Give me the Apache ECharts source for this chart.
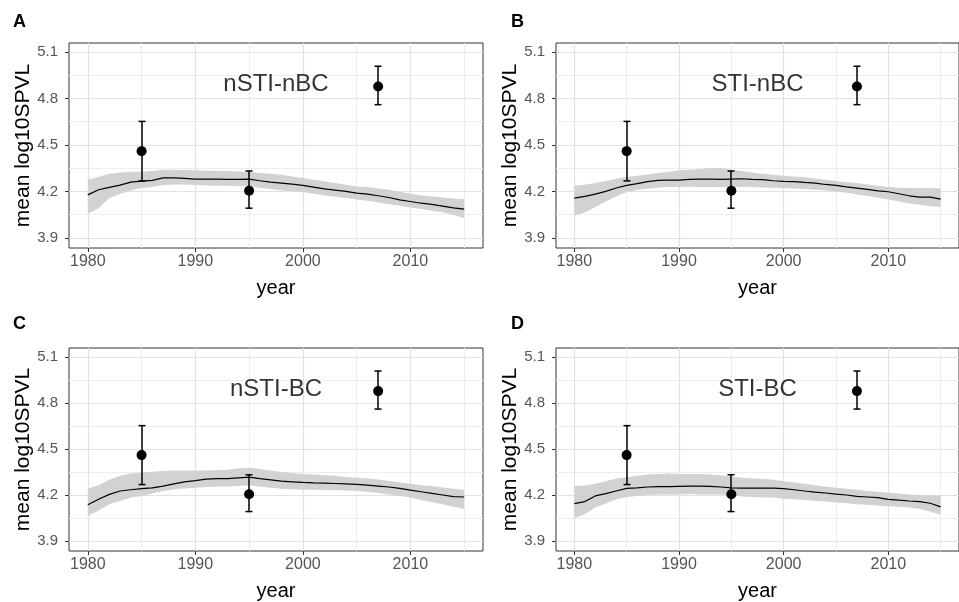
<!DOCTYPE html>
<html>
<head>
<meta charset="utf-8">
<title>mean log10SPVL by year</title>
<script src="https://cdn.jsdelivr.net/npm/echarts@6/dist/echarts.min.js"></script>
<style>
  html, body { margin: 0; padding: 0; background: #fff; }
  #chart { width: 959px; height: 602px; }
</style>
</head>
<body>
<div id="chart"></div>
<script>
  // x values of the model curves
  const years = [
    1980, 1981, 1982, 1983, 1984, 1985, 1986, 1987, 1988, 1989,
    1990, 1991, 1992, 1993, 1994, 1995, 1996, 1997, 1998, 1999,
    2000, 2001, 2002, 2003, 2004, 2005, 2006, 2007, 2008, 2009,
    2010, 2011, 2012, 2013, 2014, 2015
  ];

  // tick labels and grid lines
  const xTicks = [1980, 1990, 2000, 2010];
  const xMinor = [1985, 1995, 2005, 2015];
  const yTicks = [3.9, 4.2, 4.5, 4.8, 5.1];
  const yMinor = [4.05, 4.35, 4.65, 4.95];

  // observed means with error bars (same in every panel)
  const obsYears = [1985, 1995, 2007];
  const obsMean = [4.46, 4.205, 4.877];
  const obsLow = [4.268, 4.092, 4.76];
  const obsHigh = [4.652, 4.332, 5.008];

  // A: nSTI-nBC
  const meanA = [4.178, 4.211, 4.226, 4.241, 4.260, 4.267, 4.271, 4.288, 4.288, 4.284,
    4.280, 4.280, 4.280, 4.278, 4.278, 4.280, 4.269, 4.260, 4.254, 4.247,
    4.239, 4.228, 4.217, 4.209, 4.200, 4.189, 4.183, 4.172, 4.161, 4.146,
    4.135, 4.124, 4.116, 4.105, 4.094, 4.086];
  const highA = [4.276, 4.293, 4.314, 4.323, 4.327, 4.327, 4.332, 4.340, 4.340, 4.338,
    4.336, 4.334, 4.334, 4.332, 4.329, 4.325, 4.319, 4.314, 4.308, 4.297,
    4.286, 4.276, 4.265, 4.254, 4.243, 4.232, 4.228, 4.219, 4.211, 4.198,
    4.185, 4.174, 4.168, 4.161, 4.155, 4.150];
  const lowA = [4.055, 4.092, 4.157, 4.183, 4.206, 4.222, 4.228, 4.241, 4.245, 4.245,
    4.241, 4.239, 4.237, 4.237, 4.235, 4.232, 4.224, 4.215, 4.206, 4.202,
    4.196, 4.185, 4.174, 4.165, 4.157, 4.148, 4.140, 4.129, 4.118, 4.107,
    4.096, 4.086, 4.075, 4.064, 4.049, 4.027];

  // B: STI-nBC
  const meanB = [4.157, 4.168, 4.183, 4.200, 4.222, 4.239, 4.250, 4.263, 4.271, 4.273,
    4.273, 4.278, 4.280, 4.280, 4.278, 4.280, 4.282, 4.278, 4.276, 4.269,
    4.265, 4.263, 4.258, 4.254, 4.245, 4.239, 4.230, 4.222, 4.213, 4.204,
    4.198, 4.185, 4.172, 4.163, 4.163, 4.150];
  const highB = [4.237, 4.243, 4.254, 4.267, 4.282, 4.293, 4.301, 4.310, 4.319, 4.327,
    4.336, 4.340, 4.345, 4.351, 4.351, 4.340, 4.332, 4.323, 4.314, 4.308,
    4.301, 4.297, 4.291, 4.284, 4.276, 4.267, 4.260, 4.254, 4.245, 4.237,
    4.228, 4.224, 4.222, 4.222, 4.222, 4.219];
  const lowB = [4.043, 4.064, 4.099, 4.135, 4.168, 4.196, 4.209, 4.217, 4.224, 4.228,
    4.228, 4.230, 4.228, 4.228, 4.228, 4.228, 4.230, 4.228, 4.226, 4.224,
    4.222, 4.219, 4.215, 4.211, 4.206, 4.200, 4.191, 4.181, 4.170, 4.159,
    4.148, 4.135, 4.122, 4.114, 4.105, 4.099];

  // C: nSTI-BC
  const meanC = [4.136, 4.172, 4.204, 4.226, 4.234, 4.241, 4.247, 4.258, 4.273, 4.286,
    4.294, 4.303, 4.307, 4.307, 4.312, 4.316, 4.307, 4.299, 4.290, 4.286,
    4.282, 4.279, 4.277, 4.275, 4.273, 4.269, 4.264, 4.258, 4.252, 4.243,
    4.232, 4.221, 4.211, 4.200, 4.189, 4.187];
  const highC = [4.243, 4.264, 4.299, 4.325, 4.340, 4.346, 4.352, 4.357, 4.359, 4.359,
    4.359, 4.359, 4.361, 4.365, 4.372, 4.378, 4.370, 4.359, 4.350, 4.344,
    4.337, 4.333, 4.329, 4.325, 4.318, 4.312, 4.307, 4.301, 4.292, 4.282,
    4.273, 4.264, 4.258, 4.249, 4.241, 4.234];
  const lowC = [4.065, 4.097, 4.140, 4.161, 4.183, 4.194, 4.209, 4.226, 4.237, 4.243,
    4.247, 4.252, 4.254, 4.256, 4.258, 4.264, 4.254, 4.247, 4.241, 4.237,
    4.234, 4.234, 4.232, 4.232, 4.230, 4.226, 4.221, 4.213, 4.204, 4.194,
    4.183, 4.168, 4.153, 4.140, 4.123, 4.108];

  // D: STI-BC
  const meanD = [4.144, 4.157, 4.194, 4.209, 4.226, 4.243, 4.247, 4.252, 4.254, 4.254,
    4.256, 4.258, 4.258, 4.256, 4.252, 4.247, 4.245, 4.245, 4.245, 4.245,
    4.241, 4.234, 4.226, 4.219, 4.213, 4.206, 4.200, 4.191, 4.187, 4.183,
    4.172, 4.166, 4.161, 4.157, 4.146, 4.123];
  const highD = [4.258, 4.262, 4.273, 4.290, 4.307, 4.316, 4.325, 4.333, 4.337, 4.340,
    4.337, 4.337, 4.337, 4.333, 4.329, 4.322, 4.312, 4.307, 4.305, 4.299,
    4.290, 4.282, 4.273, 4.264, 4.256, 4.247, 4.241, 4.234, 4.226, 4.221,
    4.215, 4.209, 4.204, 4.200, 4.198, 4.196];
  const lowD = [4.048, 4.075, 4.118, 4.144, 4.172, 4.187, 4.194, 4.200, 4.204, 4.204,
    4.204, 4.206, 4.204, 4.204, 4.204, 4.200, 4.191, 4.187, 4.183, 4.183,
    4.176, 4.172, 4.168, 4.163, 4.157, 4.151, 4.146, 4.140, 4.136, 4.131,
    4.127, 4.123, 4.118, 4.108, 4.093, 4.071];

  const panelNames = ['nSTI-nBC', 'STI-nBC', 'nSTI-BC', 'STI-BC'];
  const panelLetters = ['A', 'B', 'C', 'D'];
  const means = [meanA, meanB, meanC, meanD];
  const highs = [highA, highB, highC, highD];
  const lows = [lowA, lowB, lowC, lowD];
  const labelAt = [1997.5, 4.89];

  // grid boxes in px (right column runs off the canvas like the source)
  const boxes = [
    { left: 69, top: 43 }, { left: 556, top: 43 },
    { left: 69, top: 348 }, { left: 556, top: 348 }
  ];
  const letterPos = [[13, 13], [511, 13], [13, 315], [511, 315]];

  const FONT = '"Liberation Sans", Arial, sans-serif';
  const majorLine = { color: '#e2e2e2', width: 1.2, type: 'solid' };
  const minorLine = { color: '#ededed', width: 1, type: 'solid' };

  const chart = echarts.init(document.getElementById('chart'), null, { renderer: 'canvas' });

  const grid = [], xAxis = [], yAxis = [], series = [], title = [];

  panelNames.forEach((name, i) => {
    grid.push({
      left: boxes[i].left, top: boxes[i].top, width: 414, height: 205,
      show: true, backgroundColor: '#fff', borderColor: '#333', borderWidth: 1
    });

    xAxis.push({
      gridIndex: i, type: 'value', min: 1978.25, max: 2016.75,
      name: 'year', nameLocation: 'middle', nameGap: 30,
      nameTextStyle: { fontSize: 20, color: '#000', fontFamily: FONT },
      axisLine: { show: false },
      axisTick: { show: true, customValues: xTicks, length: 4, lineStyle: { color: '#333' } },
      axisLabel: {
        customValues: xTicks, color: '#555', fontSize: 16, margin: 6, fontFamily: FONT,
        formatter: v => String(v)
      },
      splitLine: { show: false }
    });

    yAxis.push({
      gridIndex: i, type: 'value', min: 3.835, max: 5.158,
      name: 'mean log10SPVL', nameLocation: 'middle', nameGap: 27,
      nameTextStyle: { fontSize: 21, color: '#000', fontFamily: FONT },
      axisLine: { show: false },
      axisTick: { show: true, customValues: yTicks, length: 4, lineStyle: { color: '#333' } },
      axisLabel: {
        customValues: yTicks, color: '#555', fontSize: 15, margin: 11, fontFamily: FONT,
        formatter: v => v.toFixed(1)
      },
      splitLine: { show: false }
    });

    title.push({
      text: panelLetters[i], left: letterPos[i][0], top: letterPos[i][1], padding: 0,
      textStyle: { fontSize: 18, fontWeight: 'bold', color: '#000', fontFamily: FONT }
    });

    // background grid lines, hung on an invisible copy of the lower band
    series.push({
      type: 'line', xAxisIndex: i, yAxisIndex: i, z: 1, silent: true,
      showSymbol: false, lineStyle: { opacity: 0 },
      data: years.map((y, k) => [y, lows[i][k]]),
      markLine: {
        z: 1, symbol: 'none', silent: true, animation: false, label: { show: false },
        data: [
          ...xMinor.map(v => ({ xAxis: v, lineStyle: minorLine })),
          ...yMinor.map(v => ({ yAxis: v, lineStyle: minorLine })),
          ...xTicks.map(v => ({ xAxis: v, lineStyle: majorLine })),
          ...yTicks.map(v => ({ yAxis: v, lineStyle: majorLine }))
        ]
      }
    });

    // confidence ribbon
    const hi = highs[i], lo = lows[i];
    series.push({
      type: 'custom', xAxisIndex: i, yAxisIndex: i, z: 2, silent: true,
      data: [[years[0], hi[0]]],
      renderItem: (params, api) => {
        const top = years.map((y, k) => api.coord([y, hi[k]]));
        const bottom = years.map((y, k) => api.coord([y, lo[k]])).reverse();
        return {
          type: 'polygon',
          shape: { points: top.concat(bottom) },
          style: { fill: '#d2d2d2' }
        };
      }
    });

    // model mean
    series.push({
      type: 'line', xAxisIndex: i, yAxisIndex: i, z: 3, silent: true,
      showSymbol: false,
      data: years.map((y, k) => [y, means[i][k]]),
      lineStyle: { color: '#000', width: 1.2 }
    });

    // error bars as thin filled rects
    series.push({
      type: 'custom', xAxisIndex: i, yAxisIndex: i, z: 4, silent: true,
      data: obsYears.map((y, k) => [y, obsLow[k], obsHigh[k]]),
      renderItem: (params, api) => {
        const a = api.coord([api.value(0), api.value(1)]);
        const b = api.coord([api.value(0), api.value(2)]);
        const x = Math.round(a[0]);
        const t = 1.5, w = 7;
        const fill = { fill: '#000' };
        return {
          type: 'group',
          children: [
            { type: 'rect', shape: { x: x - t / 2, y: b[1], width: t, height: a[1] - b[1] }, style: fill },
            { type: 'rect', shape: { x: x - w / 2, y: a[1] - t / 2, width: w, height: t }, style: fill },
            { type: 'rect', shape: { x: x - w / 2, y: b[1] - t / 2, width: w, height: t }, style: fill }
          ]
        };
      }
    });

    // observed points
    series.push({
      type: 'scatter', xAxisIndex: i, yAxisIndex: i, z: 5, silent: true,
      symbolSize: 10, itemStyle: { color: '#000', opacity: 1 },
      data: obsYears.map((y, k) => [y, obsMean[k]])
    });

    // panel label text
    series.push({
      type: 'scatter', xAxisIndex: i, yAxisIndex: i, z: 5, silent: true,
      symbolSize: 0, data: [labelAt],
      label: {
        show: true, position: 'inside', formatter: name,
        fontSize: 24, color: '#000', fontFamily: FONT
      }
    });
  });

  chart.setOption({
    animation: false,
    backgroundColor: '#fff',
    title, grid, xAxis, yAxis, series
  });
</script>
</body>
</html>
